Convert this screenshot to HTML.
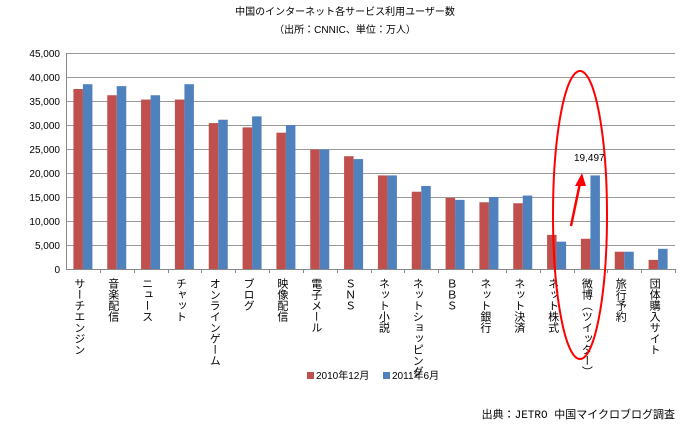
<!DOCTYPE html>
<html><head><meta charset="utf-8"><style>
body{margin:0;background:#fff;width:690px;height:425px;overflow:hidden;font-family:"Liberation Sans","Noto Sans CJK JP",sans-serif}
svg text{font-family:"Liberation Sans","Noto Sans CJK JP",sans-serif}
svg text.mono{font-family:"Liberation Mono","Noto Sans CJK JP",monospace}
</style></head><body>
<svg id="c" width="690" height="425" xmlns="http://www.w3.org/2000/svg">
<text x="345" y="15" font-size="10" text-anchor="middle">中国のインターネット各サービス利用ユーザー数</text>
<text x="345" y="33" font-size="10" text-anchor="middle">（出所：CNNIC、単位：万人）</text>
<g id="grid"></g><g id="bars"></g><g id="xl"></g>
<g>
<rect x="307" y="372" width="7" height="7" fill="#c0504d"/>
<text x="316" y="379" font-size="10">2010年12月</text>
<rect x="383" y="372" width="7" height="7" fill="#4f81bd"/>
<text x="392" y="379" font-size="10">2011年6月</text>
</g>
<ellipse cx="580" cy="215" rx="27" ry="144" fill="none" stroke="#ff0000" stroke-width="2"/>
<line x1="571" y1="226" x2="580" y2="183" stroke="#ff0000" stroke-width="2.5"/>
<polygon points="582,173 575,186 586,186" fill="#ff0000"/>
<text x="574" y="161" font-size="10">19,497</text>
<text class="mono" x="675" y="418" font-size="11" text-anchor="end">出典：JETRO 中国マイクロブログ調査</text>
</svg>
<script>
const categories=["サーチエンジン","音楽配信","ニュース","チャット","オンラインゲーム","ブログ","映像配信","電子メール","ＳＮＳ","ネット小説","ネットショッピング","ＢＢＳ","ネット銀行","ネット決済","ネット株式","微博（ツイッター）","旅行予約","団体購入サイト"];
const series2010=[37500,36200,35300,35300,30400,29500,28400,24900,23500,19500,16100,14800,13900,13700,7100,6300,3600,1900];
const series2011=[38500,38100,36200,38500,31100,31800,30000,24900,22900,19500,17300,14400,15000,15300,5700,19497,3600,4200];
const yTicks=[0,5000,10000,15000,20000,25000,30000,35000,40000,45000];
const NS="http://www.w3.org/2000/svg";
const X0=66,X1=675,Y0=269,Y1=53,YMAX=45000;
const bw=(X1-X0)/categories.length;
const y=v=>Y0-(v/YMAX)*(Y0-Y1);
function mk(t,a,p){const e=document.createElementNS(NS,t);for(const k in a)e.setAttribute(k,a[k]);p.appendChild(e);return e;}
const g=document.getElementById('grid'),b=document.getElementById('bars'),xl=document.getElementById('xl');
yTicks.forEach(v=>{
 if(v>0){const l=mk('line',{x1:X0,x2:X1,y1:y(v)+.5,y2:y(v)+.5,stroke:'#999','stroke-width':1},g);
 
 }
 const t=mk('text',{x:X0-6,y:y(v)+4,'font-size':10,'text-anchor':'end'},g);t.textContent=v.toLocaleString('en-US');
 
 
});
const ax=mk('line',{x1:X0,x2:X1,y1:Y0+.5,y2:Y0+.5,stroke:'#888'},g);


const ay=mk('line',{x1:X0+.5,x2:X0+.5,y1:Y1,y2:Y0,stroke:'#888'},g);


categories.forEach((c,i)=>{
 const cx=X0+bw*(i+.5);
 const r=mk('rect',{x:cx-9.5,y:y(series2010[i]),width:9.5,height:Y0-y(series2010[i]),fill:'#c0504d'},b);
 
 
 const r2=mk('rect',{x:cx,y:y(series2011[i]),width:9.5,height:Y0-y(series2011[i]),fill:'#4f81bd'},b);
 
 
 const tk=mk('line',{x1:Math.round(X0+bw*(i+1))+.5,x2:Math.round(X0+bw*(i+1))+.5,y1:Y0,y2:Y0+4,stroke:'#888'},g);
 
 
 const t=mk('text',{x:cx-4,y:278,'font-size':11,style:'writing-mode:vertical-rl'},xl);
 t.textContent=c;
 
 
});
</script>
</body></html>
